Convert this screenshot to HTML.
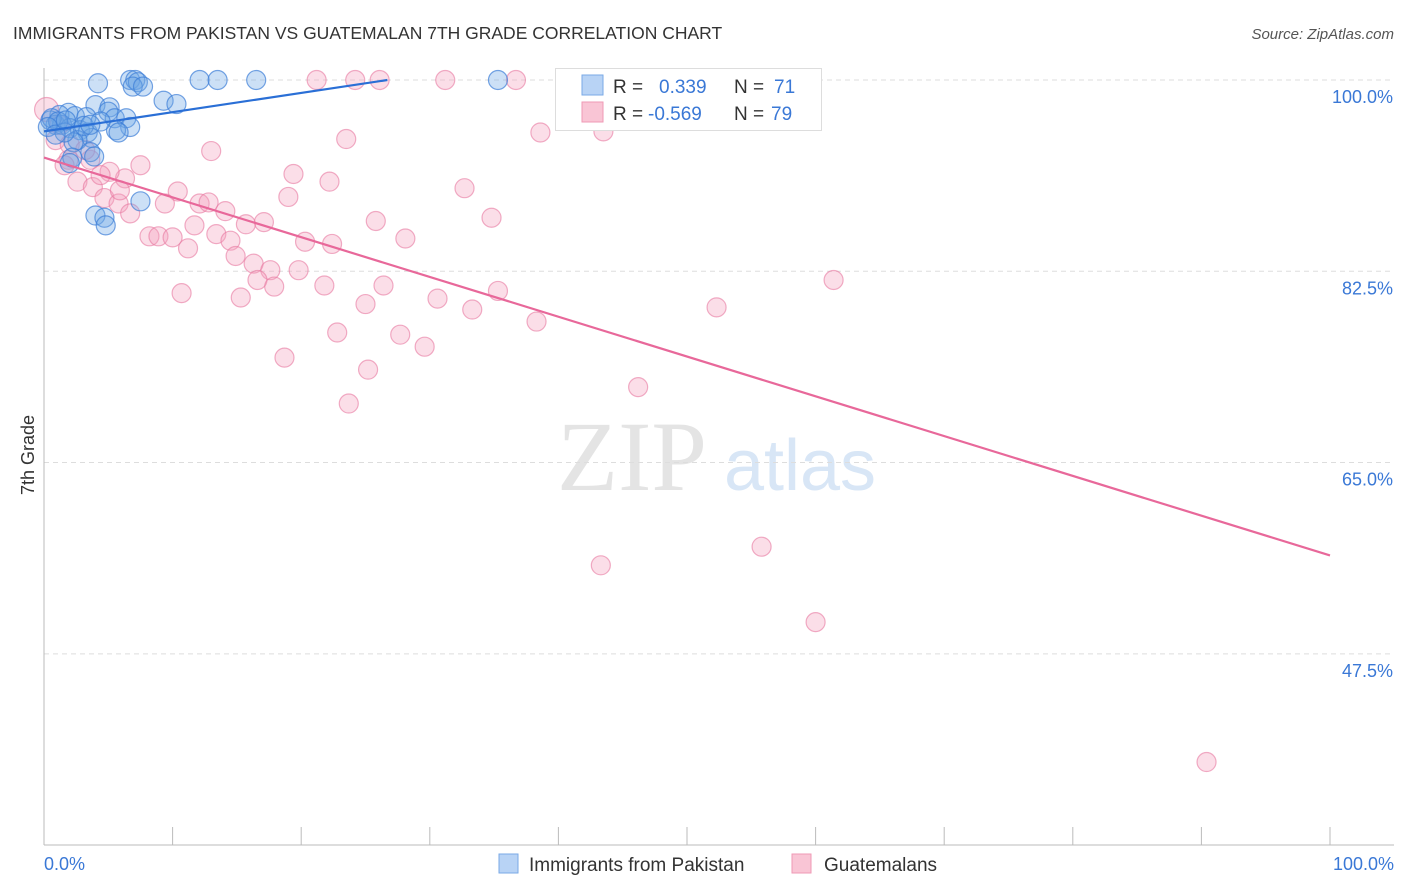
<!DOCTYPE html>
<html><head><meta charset="utf-8"><style>
body{margin:0;background:#fff;font-family:"Liberation Sans",sans-serif}
#wrap{position:relative;width:1406px;height:892px;overflow:hidden}
</style></head><body>
<div id="wrap">
<svg id="svg" width="1406" height="892" xmlns="http://www.w3.org/2000/svg">
<text x="13" y="39" font-size="17.5" fill="#333">IMMIGRANTS FROM PAKISTAN VS GUATEMALAN 7TH GRADE CORRELATION CHART</text>
<text x="1394" y="39" font-size="15" fill="#555" font-style="italic" text-anchor="end">Source: ZipAtlas.com</text>
<text x="34" y="455" font-size="18" fill="#333" transform="rotate(-90 34 455)" text-anchor="middle">7th Grade</text>
<g>
<text x="632" y="490" font-size="100" fill="#e4e4e4" font-family="Liberation Serif,serif" text-anchor="middle">ZIP</text>
<text x="800" y="490" font-size="72" fill="#d8e6f6" text-anchor="middle">atlas</text>
</g>
<g id="grid"></g><g id="axes"></g><g id="pts"></g><g id="lines"></g>
<g>
<rect x="555.5" y="68.5" width="266" height="62" fill="#fff" stroke="#ddd"/>
<rect x="582" y="75" width="21" height="20" fill="#b8d3f5" stroke="#7aaae6"/>
<rect x="582" y="102" width="21" height="20" fill="#f9c5d5" stroke="#ef99b5"/>
<text y="93" font-size="19"><tspan x="613" fill="#333">R =</tspan><tspan x="659" fill="#3a78d6">0.339</tspan><tspan x="734" fill="#333">N =</tspan><tspan x="774" fill="#3a78d6">71</tspan></text>
<text y="120" font-size="19"><tspan x="613" fill="#333">R =</tspan><tspan x="648" fill="#3a78d6">-0.569</tspan><tspan x="734" fill="#333">N =</tspan><tspan x="771" fill="#3a78d6">79</tspan></text>
</g>
<g>
<rect x="499" y="854" width="19" height="19" fill="#b8d3f5" stroke="#7aaae6"/>
<text x="529" y="871" font-size="19" fill="#333">Immigrants from Pakistan</text>
<rect x="792" y="854" width="19" height="19" fill="#f9c5d5" stroke="#ef99b5"/>
<text x="824" y="871" font-size="19" fill="#333">Guatemalans</text>
</g>
</svg>
</div>
<script>
const yTicks=[100,82.5,65,47.5];
const yTickLabels=["100.0%","82.5%","65.0%","47.5%"];
const xTickLabels=["0.0%","100.0%"];
const blueX=[4.2,6.7,7.1,7.3,6.9,7.7,12.1,13.5,16.5,35.3,9.3,10.3,4.0,5.1,5.0,1.9,1.2,2.4,3.3,5.5,6.4,6.7,5.6,5.8,0.5,0.9,1.4,2.0,2.8,3.4,3.7,2.6,2.3,3.6,3.9,2.2,2.0,7.5,4.0,4.7,4.8,0.6,1.1,0.3,1.6,3.1,4.4,3.6,0.9,1.7];
const blueY=[99.7,100,100,99.8,99.4,99.4,100,100,100,100,98.1,97.8,97.7,97.5,97.1,97.0,96.8,96.7,96.6,96.5,96.5,95.7,95.4,95.2,96.3,95.9,95.9,95.6,95.4,95.2,94.7,94.5,94.3,93.4,93.0,92.9,92.4,88.9,87.6,87.4,86.7,96.5,96.2,95.7,95.2,95.8,96.2,95.9,95.0,96.3];
const pinkX=[21.2,24.2,26.1,31.2,36.7,58.6,0.2,23.5,38.6,43.5,13.0,7.5,1.9,19.4,22.2,32.7,6.3,5.1,2.6,3.8,4.7,5.8,6.7,10.4,9.4,12.1,12.8,14.1,19.0,25.8,34.8,17.1,15.7,11.7,13.4,14.5,8.2,8.9,10.0,11.2,14.9,20.3,22.4,28.1,16.3,17.6,19.8,16.6,17.9,21.8,26.4,35.3,10.7,15.3,30.6,25.0,33.3,52.3,61.4,38.3,22.8,27.7,29.6,18.7,25.2,46.2,23.7,55.8,43.3,60.0,90.4,1.2,0.9,2.0,3.6,4.4,1.6,3.2,5.9];
const pinkY=[100,100,100,100,100,100,97.3,94.6,95.2,95.3,93.5,92.2,92.7,91.4,90.7,90.1,91.0,91.6,90.7,90.2,89.2,88.7,87.8,89.8,88.7,88.7,88.8,88.0,89.3,87.1,87.4,87.0,86.8,86.7,85.9,85.3,85.7,85.7,85.6,84.6,83.9,85.2,85.0,85.5,83.2,82.6,82.6,81.7,81.1,81.2,81.2,80.7,80.5,80.1,80.0,79.5,79.0,79.2,81.7,77.9,76.9,76.7,75.6,74.6,73.5,71.9,70.4,57.3,55.6,50.4,37.6,95.9,94.5,94.1,92.7,91.3,92.2,93.6,89.9];
const blueTrend=[[0,95.3],[26.7,100]];
const pinkTrend=[[0,92.9],[100,56.5]];
const NS="http://www.w3.org/2000/svg";
const X=v=>44+v*12.86;
const Y=v=>80+(100-v)*10.93;
function mk(tag,attrs,parent){const e=document.createElementNS(NS,tag);for(const k in attrs)e.setAttribute(k,attrs[k]);document.getElementById(parent).appendChild(e);return e;}
yTicks.forEach((t,i)=>{
  const l=mk('line',{x1:44,x2:1394,y1:Y(t),y2:Y(t),stroke:'#ddd','stroke-dasharray':'5,4'},'grid');
  
  
  const tx=mk('text',{x:1393,y:Y(t)+23,'font-size':18,fill:'#3a78d6','text-anchor':'end'},'grid');
  tx.textContent=yTickLabels[i];
  
  
});
let a=mk('line',{x1:44,x2:44,y1:68,y2:845,stroke:'#bbb'},'axes');


a=mk('line',{x1:44,x2:1394,y1:845,y2:845,stroke:'#bbb'},'axes');


for(let i=1;i<=10;i++){
  const t=mk('line',{x1:X(i*10),x2:X(i*10),y1:827,y2:845,stroke:'#bbb'},'axes');
  
  
}
[[0,'start',44],[100,'end',1394]].forEach((d,i)=>{
  const t=mk('text',{x:d[2],y:870,'font-size':18,fill:'#3a78d6','text-anchor':d[1]},'axes');
  t.textContent=xTickLabels[i];
  
  
});
pinkX.forEach((x,i)=>{
  const c=mk('circle',{cx:X(x),cy:Y(pinkY[i]),r:i==6?12:9.5,fill:'rgba(244,160,188,0.35)',stroke:'rgba(232,120,160,0.6)','stroke-width':1.2},'pts');
  
  
});
blueX.forEach((x,i)=>{
  const c=mk('circle',{cx:X(x),cy:Y(blueY[i]),r:9.5,fill:'rgba(110,165,230,0.35)',stroke:'rgba(60,125,215,0.7)','stroke-width':1.2},'pts');
  
  
});
let ln=mk('line',{x1:X(blueTrend[0][0]),y1:Y(blueTrend[0][1]),x2:X(blueTrend[1][0]),y2:Y(blueTrend[1][1]),stroke:'#2a6fd6','stroke-width':2.2},'lines');


ln=mk('line',{x1:X(pinkTrend[0][0]),y1:Y(pinkTrend[0][1]),x2:X(pinkTrend[1][0]),y2:Y(pinkTrend[1][1]),stroke:'#e8689a','stroke-width':2.2},'lines');


</script>
</body></html>
